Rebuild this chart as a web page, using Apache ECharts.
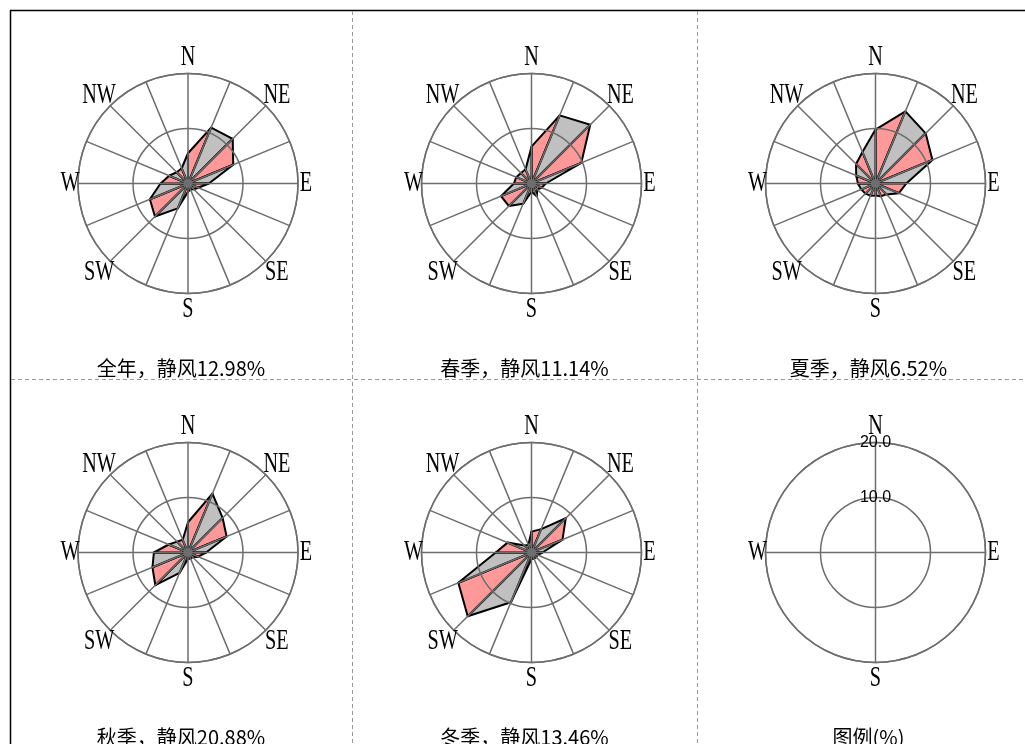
<!DOCTYPE html>
<html>
<head>
<meta charset="utf-8">
<script src="https://cdn.jsdelivr.net/npm/echarts@6/dist/echarts.min.js"></script>
<style>
  html, body { margin: 0; padding: 0; background: #fff; }
  #main { width: 1025px; height: 744px; }
</style>
</head>
<body>
<div id="main"></div>
<script>
// Wind direction frequency (%) for the 16 compass sectors, N clockwise.
const directions = ['N','NNE','NE','ENE','E','ESE','SE','SSE','S','SSW','SW','WSW','W','WNW','NW','NNW'];
const annualFreq = [5.5, 11.0, 11.5, 8.9, 3.8, 2.0, 1.5, 1.2, 1.5, 4.9, 8.5, 7.5, 5.0, 3.7, 2.9, 3.0];
const springFreq = [6.7, 13.4, 15.1, 9.8, 2.6, 2.0, 1.5, 2.5, 1.5, 4.0, 5.8, 6.0, 3.2, 3.0, 2.7, 2.8];
const summerFreq = [9.8, 14.2, 12.9, 11.2, 5.6, 4.6, 2.8, 2.5, 2.2, 2.4, 2.6, 2.8, 3.2, 3.8, 5.0, 6.2];
const autumnFreq = [5.5, 11.6, 8.9, 7.6, 3.3, 2.0, 1.2, 1.2, 1.2, 4.0, 8.4, 7.0, 6.2, 3.8, 2.8, 2.5];
const winterFreq = [3.8, 4.6, 8.8, 6.1, 2.0, 1.2, 1.2, 1.2, 1.2, 9.8, 16.4, 14.4, 6.5, 4.7, 1.8, 1.5];

// Panel captions (calm-wind share per period) and compass labels
const captions = ['全年，静风12.98%', '春季，静风11.14%', '夏季，静风6.52%', '秋季，静风20.88%', '冬季，静风13.46%', '图例(%)'];
const compassLabels = ['N','NE','E','SE','S','SW','W','NW'];
const legendCompass = ['N','E','S','W'];
const radiusTicks = [0, 10, 20];

// ---- layout ----
const COL_EDGES = [10, 352, 697, 1040];
const ROW_EDGES = [10, 379, 748];
const ROSE_RADIUS = 110;
const RADIUS_MAX = radiusTicks[radiusTicks.length - 1];
const PX_PER_UNIT = ROSE_RADIUS / RADIUS_MAX;
const GRID_COLOR = '#6e6e6e';
const PINK = '#FF9999';
const GREY = '#C0C0C0';

const roses = [annualFreq, springFreq, summerFreq, autumnFreq, winterFreq];

const cells = [];
for (let r = 0; r < 2; r++) {
  for (let c = 0; c < 3; c++) {
    const cx = (COL_EDGES[c] + COL_EDGES[c + 1]) / 2;
    cells.push({
      cx: cx,
      roseX: cx + 7,
      roseY: ROW_EDGES[r] + 173.5,
      captionY: ROW_EDGES[r] + 358
    });
  }
}

const polar = [], angleAxis = [], radiusAxis = [], series = [];

cells.forEach((cell, idx) => {
  const isLegend = idx === 5;
  polar.push({ center: [cell.roseX, cell.roseY], radius: ROSE_RADIUS });
  angleAxis.push({
    polarIndex: idx,
    type: 'value', min: 0, max: 360,
    interval: isLegend ? 90 : 360 / directions.length,
    startAngle: 90, clockwise: true, z: 5,
    axisLine: { show: true, lineStyle: { color: GRID_COLOR, width: 1.5 } },
    axisTick: { show: false },
    axisLabel: { show: false },
    splitLine: { show: true, lineStyle: { color: GRID_COLOR, width: 1.5 } }
  });
  radiusAxis.push({
    polarIndex: idx,
    type: 'value', min: radiusTicks[0], max: RADIUS_MAX, interval: radiusTicks[1] - radiusTicks[0],
    z: 5,
    axisLine: { show: false },
    axisTick: { show: false },
    axisLabel: {
      show: isLegend,
      showMinLabel: false,
      margin: 0,
      align: 'center',
      verticalAlign: 'middle',
      color: '#000',
      fontFamily: 'Liberation Sans',
      fontSize: 16,
      formatter: v => (v === 0 ? '' : v.toFixed(1))
    },
    splitLine: { show: true, lineStyle: { color: GRID_COLOR, width: 1.5 } }
  });

  if (!isLegend) {
    const values = roses[idx];
    const n = values.length;
    series.push({
      type: 'custom',
      coordinateSystem: 'polar',
      polarIndex: idx,
      z: 1,
      silent: true,
      data: values.map((v, i) => [v, i * 360 / n]),
      renderItem(params, api) {
        const i = params.dataIndex;
        const j = (i + 1) % n;
        const c = api.coord([0, 0]);
        const p1 = api.coord([values[i], i * 360 / n]);
        const p2 = api.coord([values[j], (i + 1) * 360 / n]);
        return {
          type: 'polygon',
          shape: { points: [c, p1, p2] },
          style: {
            fill: i % 2 === 0 ? PINK : GREY,
            stroke: '#000',
            lineWidth: 2,
            lineJoin: 'round'
          }
        };
      }
    });
  }

  // compass letters around the outer ring
  const names = isLegend ? legendCompass : compassLabels;
  const step = 360 / names.length;
  series.push({
    type: 'custom',
    coordinateSystem: 'polar',
    polarIndex: idx,
    z: 8,
    silent: true,
    data: names.map((nm, k) => [RADIUS_MAX, k * step]),
    renderItem(params, api) {
      const k = params.dataIndex;
      const a = k * step * Math.PI / 180;
      const off = ROSE_RADIUS + 3 + 13 * Math.abs(Math.cos(a)) + 5 * Math.abs(Math.sin(a));
      const pos = api.coord([off / PX_PER_UNIT, k * step]);
      return {
        type: 'text',
        x: pos[0], y: pos[1],
        scaleX: 0.92, scaleY: 1.38,
        style: {
          text: names[k],
          fontFamily: 'Liberation Serif',
          fontSize: 22,
          fill: '#000',
          align: 'center',
          verticalAlign: 'middle'
        }
      };
    }
  });
});

// frame, dividers and captions
const graphic = [
  { type: 'line', shape: { x1: 10, y1: 10.5, x2: 1025, y2: 10.5 }, style: { stroke: '#000', lineWidth: 1.5 }, silent: true },
  { type: 'line', shape: { x1: 10.5, y1: 10, x2: 10.5, y2: 744 }, style: { stroke: '#000', lineWidth: 1.5 }, silent: true },
  { type: 'line', shape: { x1: COL_EDGES[1] + 0.5, y1: 11, x2: COL_EDGES[1] + 0.5, y2: 744 }, style: { stroke: '#9a9a9a', lineWidth: 1, lineDash: [4, 3] }, silent: true },
  { type: 'line', shape: { x1: COL_EDGES[2] + 0.5, y1: 11, x2: COL_EDGES[2] + 0.5, y2: 744 }, style: { stroke: '#9a9a9a', lineWidth: 1, lineDash: [4, 3] }, silent: true },
  { type: 'line', shape: { x1: 11, y1: ROW_EDGES[1] + 0.5, x2: 1025, y2: ROW_EDGES[1] + 0.5 }, style: { stroke: '#9a9a9a', lineWidth: 1, lineDash: [4, 3] }, silent: true }
];
cells.forEach((cell, idx) => {
  graphic.push({
    type: 'text',
    x: cell.cx, y: cell.captionY,
    silent: true,
    style: {
      text: captions[idx],
      fontFamily: 'Noto Sans CJK SC',
      fontSize: 20,
      fill: '#000',
      align: 'center',
      verticalAlign: 'middle'
    }
  });
});

const chart = echarts.init(document.getElementById('main'), null, { renderer: 'canvas' });
chart.setOption({
  animation: false,
  backgroundColor: '#fff',
  polar, angleAxis, radiusAxis, series, graphic
});
</script>
</body>
</html>
